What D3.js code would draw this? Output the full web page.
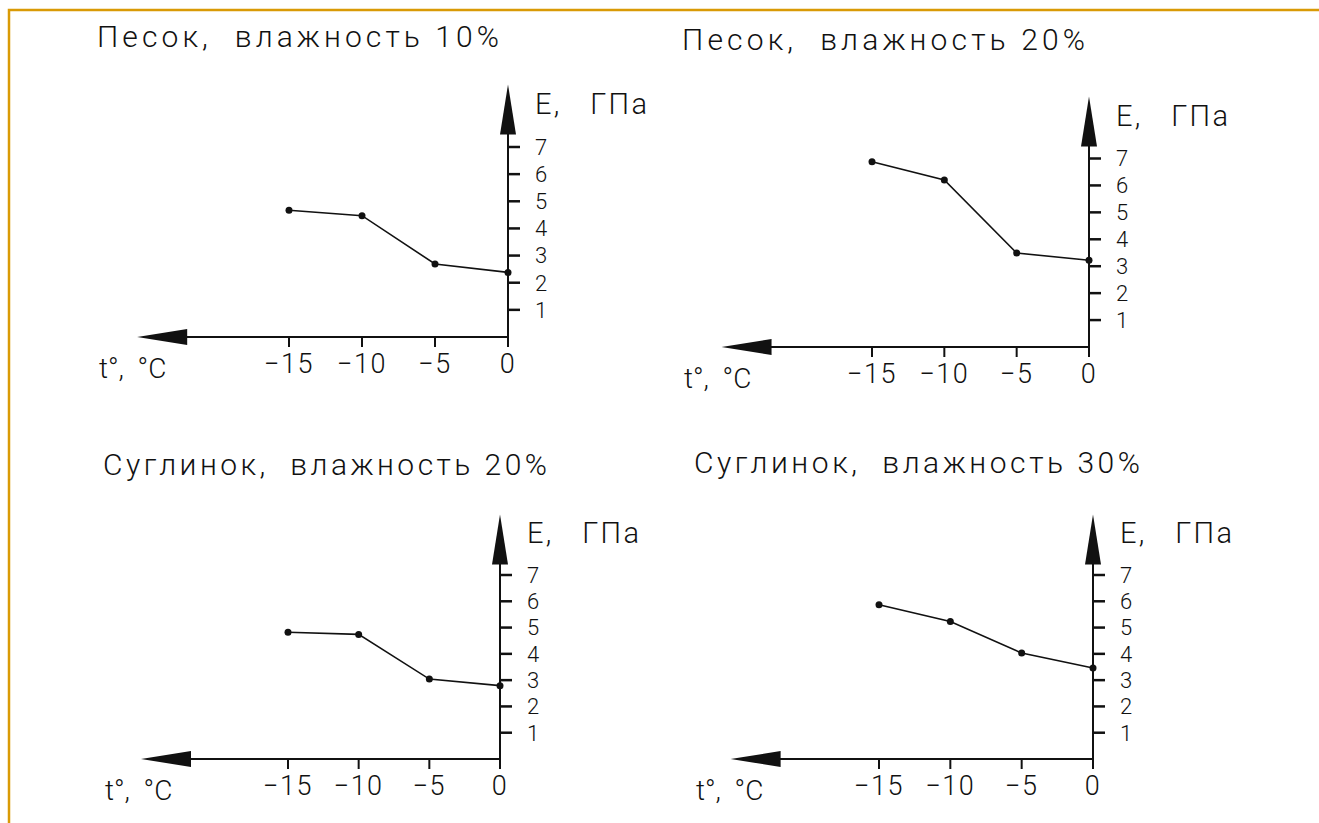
<!DOCTYPE html>
<html>
<head>
<meta charset="utf-8">
<script src="https://cdn.jsdelivr.net/npm/d3@7"></script>
<style>
  body { margin: 0; background: #fff; }
  text { font-family: Roboto, "DejaVu Sans", sans-serif; font-weight: 300; fill: #111; white-space: pre; }
</style>
</head>
<body>
<script>
// data
var temps = [-15, -10, -5, 0];
var yTicks = [1, 2, 3, 4, 5, 6, 7];
var titles = ["Песок,  влажность 10%", "Песок,  влажность 20%", "Суглинок,  влажность 20%", "Суглинок,  влажность 30%"];
var sand10 = [4.67, 4.47, 2.69, 2.38];
var sand20 = [6.88, 6.2, 3.49, 3.22];
var loam20 = [4.82, 4.74, 3.04, 2.79];
var loam30 = [5.87, 5.23, 4.03, 3.46];
var seriesList = [sand10, sand20, loam20, loam30];
var yLabel = "E,   ГПа";
var xLabel = "t°,  °C";

// layout of each panel (origin, size of 15 degrees and 7 GPa, title spot)
var panels = [
  {ox: 508, oy: 337, w15: 219, h7: 190, tx: 97, ty: 47, tw: 402},
  {ox: 1089, oy: 347, w15: 217, h7: 188.5, tx: 682, ty: 50, tw: 403},
  {ox: 500, oy: 759, w15: 212, h7: 184, tx: 103, ty: 475, tw: 444},
  {ox: 1093, oy: 759, w15: 214, h7: 184, tx: 694, ty: 473, tw: 446}
];

var svg = d3.select("body").append("svg")
    .attr("width", 1319)
    .attr("height", 823);

// frame
svg.append("path")
    .attr("d", "M9,823 V10 H1319")
    .attr("fill", "none")
    .attr("stroke", "#d99a06")
    .attr("stroke-width", 2.5);

panels.forEach(function(p, i) {
  var x = d3.scaleLinear().domain([-15, 0]).range([p.ox - p.w15, p.ox]);
  var y = d3.scaleLinear().domain([0, 7]).range([p.oy, p.oy - p.h7]);
  var g = svg.append("g");

  g.append("text")
      .attr("x", p.tx).attr("y", p.ty)
      .attr("font-size", 30)
      .attr("textLength", p.tw)
      .attr("lengthAdjust", "spacing")
      .text(titles[i]);

  // x axis with arrow to the left
  var xTip = x(-25.4);
  g.append("line")
      .attr("x1", xTip + 40).attr("x2", x(0))
      .attr("y1", y(0)).attr("y2", y(0))
      .attr("stroke", "#111").attr("stroke-width", 2);
  g.append("path")
      .attr("d", "M" + xTip + "," + y(0) + "L" + (xTip + 50) + "," + (y(0) - 8) + "L" + (xTip + 50) + "," + (y(0) + 8) + "Z")
      .attr("fill", "#111");

  // y axis with arrow up
  var yTip = y(9.3);
  g.append("line")
      .attr("x1", x(0)).attr("x2", x(0))
      .attr("y1", y(0) + 10).attr("y2", yTip + 40)
      .attr("stroke", "#111").attr("stroke-width", 2);
  g.append("path")
      .attr("d", "M" + x(0) + "," + yTip + "L" + (x(0) - 8) + "," + (yTip + 50) + "L" + (x(0) + 8) + "," + (yTip + 50) + "Z")
      .attr("fill", "#111");

  // x ticks
  g.selectAll(".xt").data(temps.slice(0, 3)).enter().append("line")
      .attr("x1", function(d) { return x(d); })
      .attr("x2", function(d) { return x(d); })
      .attr("y1", y(0)).attr("y2", y(0) + 10)
      .attr("stroke", "#111").attr("stroke-width", 2);
  g.selectAll(".xl").data(temps).enter().append("text")
      .attr("x", function(d) { return x(d); })
      .attr("y", y(0) + 36)
      .attr("text-anchor", "middle")
      .attr("font-size", 27)
      .attr("letter-spacing", 1.5)
      .text(function(d) { return d < 0 ? "\u2212" + Math.abs(d) : d; });

  // y ticks
  g.selectAll(".yt").data(yTicks).enter().append("line")
      .attr("x1", x(0)).attr("x2", x(0) + 12)
      .attr("y1", function(d) { return y(d); })
      .attr("y2", function(d) { return y(d); })
      .attr("stroke", "#111").attr("stroke-width", 2.5);
  g.selectAll(".yl").data(yTicks).enter().append("text")
      .attr("x", x(0) + 27)
      .attr("y", function(d) { return y(d); })
      .attr("dy", "0.36em")
      .attr("font-size", 22)
      .text(function(d) { return d; });

  g.append("text")
      .attr("x", x(0) + 27).attr("y", y(8.2))
      .attr("font-size", 29)
      .attr("textLength", 112)
      .attr("lengthAdjust", "spacing")
      .text(yLabel);
  g.append("text")
      .attr("x", p.tx + 2).attr("y", y(0) + 41)
      .attr("font-size", 28)
      .text(xLabel);

  // data line and points
  var pts = temps.map(function(t, j) { return {t: t, v: seriesList[i][j]}; });
  var line = d3.line()
      .x(function(d) { return x(d.t); })
      .y(function(d) { return y(d.v); });
  g.append("path").attr("d", line(pts))
      .attr("fill", "none")
      .attr("stroke", "#111")
      .attr("stroke-width", 1.6);
  g.selectAll(".pt").data(pts).enter().append("circle")
      .attr("cx", function(d) { return x(d.t); })
      .attr("cy", function(d) { return y(d.v); })
      .attr("r", 3.5)
      .attr("fill", "#111");
});
</script>
</body>
</html>
